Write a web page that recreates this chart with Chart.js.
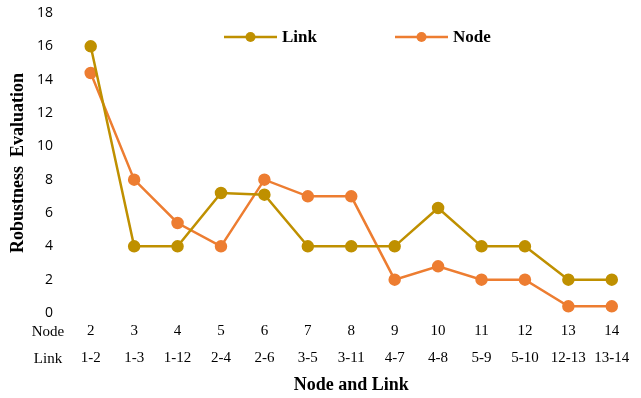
<!DOCTYPE html>
<html>
<head>
<meta charset="utf-8">
<script src="https://cdn.jsdelivr.net/npm/chart.js@4.4.1/dist/chart.umd.min.js"></script>
<style>
  html, body { margin: 0; padding: 0; background: #fff; }
  #wrap { width: 641px; height: 398px; }
</style>
</head>
<body>
<div id="wrap"><canvas id="chart" width="641" height="398"></canvas></div>
<script>
// datos
const nodeLabels = ["2", "3", "4", "5", "6", "7", "8", "9", "10", "11", "12", "13", "14"];
const linkLabels = ["1-2", "1-3", "1-12", "2-4", "2-6", "3-5", "3-11", "4-7", "4-8", "5-9", "5-10", "12-13", "13-14"];
const linkValues = [16, 4, 4, 7.2, 7.1, 4, 4, 4, 6.3, 4, 4, 2, 2];
const nodeValues = [14.4, 8, 5.4, 4, 8, 7, 7, 2, 2.8, 2, 2, 0.4, 0.4];
const yTicks = [0, 2, 4, 6, 8, 10, 12, 14, 16, 18];

const LINK_COLOR = "#BF9000";
const NODE_COLOR = "#ED7D31";
const SERIF = "'Liberation Serif', 'Times New Roman', serif";
const SANS = "'Open Sans', 'Liberation Sans', sans-serif";

// leyenda propia (linea + punto) y rotulos de fila "Node" / "Link"
const extras = {
  id: "extras",
  afterDraw(chart) {
    const ctx = chart.ctx;
    const area = chart.chartArea;
    ctx.save();
    // rotulos de fila
    ctx.font = "15px " + SERIF;
    ctx.fillStyle = "#000";
    ctx.textAlign = "center";
    ctx.textBaseline = "middle";
    const rowX = area.left - 21;
    ctx.fillText("Node", rowX, area.bottom + 19);
    ctx.fillText("Link", rowX, area.bottom + 46);

    // leyenda
    const items = [
      { text: "Link", color: LINK_COLOR, x: 224 },
      { text: "Node", color: NODE_COLOR, x: 395 },
    ];
    const ly = 37;
    items.forEach((it) => {
      ctx.strokeStyle = it.color;
      ctx.lineWidth = 2.5;
      ctx.beginPath();
      ctx.moveTo(it.x, ly);
      ctx.lineTo(it.x + 53, ly);
      ctx.stroke();
      ctx.fillStyle = it.color;
      ctx.beginPath();
      ctx.arc(it.x + 26.5, ly, 5, 0, Math.PI * 2);
      ctx.fill();
      ctx.fillStyle = "#000";
      ctx.font = "bold 17px " + SERIF;
      ctx.textAlign = "left";
      ctx.fillText(it.text, it.x + 58, ly + 1);
    });
    ctx.restore();
  },
};

const ctx = document.getElementById("chart").getContext("2d");
new Chart(ctx, {
  type: "line",
  data: {
    labels: nodeLabels.map((n, i) => [n, linkLabels[i]]),
    datasets: [
      {
        label: "Link",
        data: linkValues,
        borderColor: LINK_COLOR,
        backgroundColor: LINK_COLOR,
        borderWidth: 2.5,
        pointRadius: 5,
        pointHoverRadius: 5,
        tension: 0,
      },
      {
        label: "Node",
        data: nodeValues,
        borderColor: NODE_COLOR,
        backgroundColor: NODE_COLOR,
        borderWidth: 2.5,
        pointRadius: 5,
        pointHoverRadius: 5,
        tension: 0,
      },
    ],
  },
  options: {
    responsive: false,
    animation: false,
    layout: { padding: { top: 13, right: 0, left: 8, bottom: 2 } },
    plugins: {
      legend: { display: false },
      tooltip: { enabled: false },
    },
    scales: {
      x: {
        offset: true,
        grid: { display: false, drawTicks: false },
        border: { display: false },
        ticks: {
          color: "#000",
          font: { family: SERIF, size: 15, lineHeight: 1.8 },
          padding: 5,
          maxRotation: 0,
          autoSkip: false,
        },
        title: {
          display: true,
          text: "Node and Link",
          color: "#000",
          font: { family: SERIF, size: 18, weight: "bold" },
          padding: { top: 4, bottom: 0 },
        },
        afterFit: (scale) => {
          scale.height = 83;
          scale.paddingLeft = 0;
          scale.paddingRight = 0;
        },
      },
      y: {
        min: 0,
        max: 18,
        afterBuildTicks: (scale) => {
          scale.ticks = yTicks.map((v) => ({ value: v }));
        },
        grid: { display: false, drawTicks: false },
        border: { display: false },
        ticks: {
          color: "#000",
          font: { family: SANS, size: 14 },
          padding: 16,
        },
        title: {
          display: true,
          text: "Robustness  Evaluation",
          color: "#000",
          font: { family: SERIF, size: 18, weight: "bold" },
          padding: { top: 0, bottom: 4 },
        },
        afterFit: (scale) => {
          scale.width = 61;
          scale.paddingTop = 0;
          scale.paddingBottom = 0;
        },
      },
    },
  },
  plugins: [extras],
});
</script>
</body>
</html>
